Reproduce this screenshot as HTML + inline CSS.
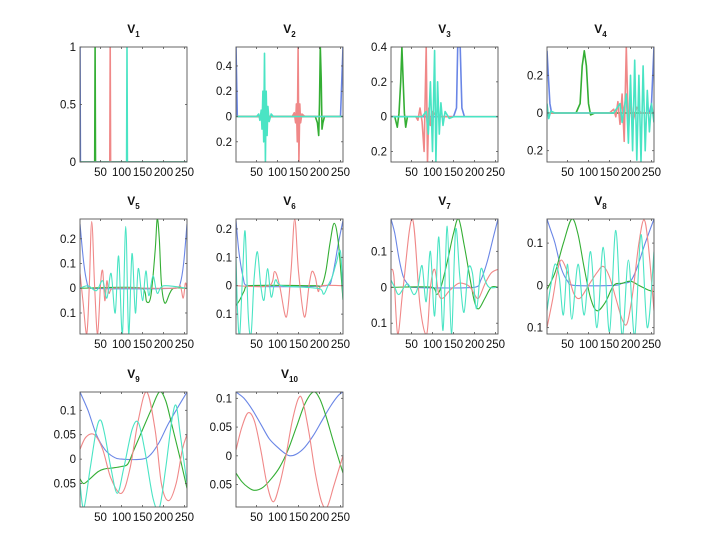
<!DOCTYPE html>
<html><head><meta charset="utf-8"><style>
html,body{margin:0;padding:0;background:#fff;}
svg{display:block;font-family:"Liberation Sans",sans-serif;}
</style></head><body>
<svg id="fig" width="720" height="540" xmlns="http://www.w3.org/2000/svg"></svg>
<script>
// ---- data ----
const panelTitles = ["1","2","3","4","5","6","7","8","9","10"];
const xTicks = [50,100,150,200,250];
const yLimits = [[0,1],[-0.36,0.55],[-0.26,0.4],[-0.26,0.35],[-0.185,0.28],[-0.17,0.235],[-0.13,0.19],[-0.115,0.157],[-0.098,0.1375],[-0.089,0.111]];
const yTicks = [[0,0.5,1],[-0.2,0,0.2,0.4],[-0.2,0,0.2,0.4],[-0.2,0,0.2],[-0.1,0,0.1,0.2],[-0.1,0,0.1,0.2],[-0.1,0,0.1],[-0.1,0,0.1],[-0.05,0,0.05,0.1],[-0.05,0,0.05,0.1]];
const yTickLabels = [["0","0.5","1"],["0.2","0","0.2","0.4"],["0.2","0","0.2","0.4"],["0.2","0","0.2"],["0.1","0","0.1","0.2"],["0.1","0","0.1","0.2"],["0.1","0","0.1"],["0.1","0","0.1"],["0.05","0","0.05","0.1"],["0.05","0","0.05","0.1"]];
const seriesNames = ["blue","green","red","cyan"];
// [x, value] pairs per panel, per series (blue, green, red, cyan)
const blueValues = [
 [[1,1],[2,0],[256,0]],
 [[1,0.55],[4,0],[250,0],[256,0.55]],
 [[1,0],[150,0],[157,0.05],[160,0.4],[166,0.4],[170,0.05],[176,0]],
 [[1,0.33],[4,0.2],[8,0.05],[12,0],[245,0],[250,0.05],[256,0.35]],
 [[1,0.26],[10,0.1],[18,0.02],[25,0],[230,0],[240,0.02],[248,0.1],[256,0.26]],
 [[1,0.23],[8,0.12],[18,0.03],[28,0],[215,0],[230,0.03],[245,0.15],[256,0.23]],
 [[1,0.19],[10,0.15],[20,0.08],[30,0.03],[40,0.01],[50,0],[200,0],[215,0.02],[230,0.07],[245,0.14],[256,0.19]],
 [[1,0.157],[10,0.13],[20,0.1],[35,0.04],[50,0.01],[65,0],[160,0],[180,0.005],[200,0.01],[215,0.04],[235,0.1],[256,0.157]],
 [[1,0.1375],[20,0.1],[40,0.05],[60,0.02],[80,0.005],[100,0],[150,0],[170,0.01],[190,0.035],[210,0.07],[230,0.1],[256,0.1375]],
 [[1,0.111],[20,0.1],[40,0.08],[60,0.055],[80,0.03],[100,0.015],[120,0.003],[130,0],[145,0.003],[165,0.015],[185,0.035],[205,0.06],[225,0.085],[245,0.105],[256,0.111]]
];
const greenValues = [
 [[1,0],[36,0],[37,1],[38,0],[256,0]],
 [[1,0],[190,0],[195,-0.05],[198,-0.15],[200,0.1],[202,0.55],[204,0.3],[206,-0.1],[208,-0.05],[212,0],[256,0]],
 [[1,0],[10,0],[16,-0.06],[20,0.02],[24,0.2],[27,0.4],[30,0.2],[33,0.02],[36,-0.06],[40,0]],
 [[1,0],[70,0],[80,0.05],[85,0.25],[90,0.33],[95,0.25],[100,0.05],[105,-0.01],[115,0],[256,0]],
 [[1,0],[150,0],[160,-0.055],[170,-0.03],[180,0.15],[185,0.28],[190,0.2],[195,0.02],[203,-0.06],[215,-0.02],[225,0],[256,0]],
 [[1,-0.07],[10,-0.05],[20,-0.02],[30,0],[190,0],[205,0],[215,0.05],[225,0.15],[235,0.22],[245,0.15],[256,-0.05]],
 [[1,0],[100,0],[110,-0.02],[120,0],[135,0.07],[150,0.15],[162,0.19],[175,0.12],[190,0.02],[200,-0.04],[210,-0.06],[225,-0.03],[240,0],[256,0]],
 [[1,-0.01],[20,0.03],[40,0.1],[60,0.157],[75,0.12],[90,0.04],[105,-0.03],[120,-0.06],[140,-0.04],[160,0],[180,0.005],[200,0.01],[220,0],[240,-0.01],[256,-0.015]],
 [[1,-0.04],[10,-0.05],[25,-0.04],[45,-0.025],[60,-0.02],[80,-0.018],[100,-0.015],[115,-0.01],[130,0.02],[150,0.06],[170,0.1],[190,0.1375],[205,0.12],[220,0.07],[240,0],[256,-0.06]],
 [[1,-0.03],[15,-0.045],[30,-0.055],[45,-0.06],[65,-0.055],[85,-0.04],[105,-0.02],[125,0.01],[145,0.05],[165,0.09],[185,0.111],[200,0.1],[215,0.07],[235,0.02],[256,-0.03]]
];
const redValues = [
 [[1,0],[72,0],[73,1],[74,0],[256,0]],
 [[1,0],[135,0],[140,0.03],[143,-0.05],[145,0.1],[147,-0.2],[149,0.55],[151,-0.36],[153,0.1],[155,-0.05],[158,0.02],[165,0],[256,0]],
 [[1,0],[60,0],[65,-0.02],[70,0.05],[75,-0.03],[80,-0.2],[85,0.4],[88,-0.26],[91,0.05],[95,-0.05],[100,0.03],[110,0],[256,0]],
 [[1,0],[150,0],[160,0.02],[165,-0.02],[170,0.06],[175,-0.06],[180,0.1],[185,-0.15],[190,0.35],[195,-0.1],[200,0.08],[205,-0.05],[215,0.03],[225,0],[256,0]],
 [[1,0.06],[8,-0.05],[17,-0.185],[23,0],[29,0.27],[36,0],[43,-0.185],[50,0.02],[55,0.07],[60,-0.05],[65,0.03],[70,-0.02],[80,0],[230,0],[240,0.01],[247,-0.04],[252,0.02],[256,0]],
 [[1,0],[80,0],[93,0.05],[105,0],[121,-0.11],[132,0.05],[141,0.235],[150,0.05],[164,-0.11],[175,0],[182,0.05],[190,0.03],[197,-0.02],[205,0],[256,0]],
 [[1,0.05],[8,0.03],[17,-0.13],[30,0],[52,0.19],[70,-0.05],[86,-0.13],[95,0],[105,0.05],[115,-0.02],[125,-0.03],[140,-0.01],[160,0.01],[175,0.01],[190,0],[200,-0.02],[210,-0.03],[225,0.01],[240,0.04],[256,0.05]],
 [[1,-0.1],[15,-0.03],[25,0.03],[35,0.06],[50,0.03],[65,-0.02],[80,-0.03],[100,0],[120,0.03],[135,0.045],[150,0.02],[165,-0.03],[180,-0.08],[192,-0.09],[205,-0.02],[220,0.1],[232,0.155],[242,0.1],[256,-0.06]],
 [[1,0.02],[15,0.045],[35,0.05],[55,0.02],[75,-0.04],[100,-0.07],[120,-0.02],[140,0.08],[160,0.1375],[180,0.06],[195,-0.05],[212,-0.085],[230,-0.05],[245,0.02],[256,0.05]],
 [[1,0.01],[15,0.05],[30,0.075],[45,0.06],[60,0.01],[75,-0.05],[90,-0.08],[105,-0.05],[120,0],[135,0.06],[150,0.1],[160,0.095],[175,0.04],[190,-0.03],[205,-0.08],[218,-0.089],[235,-0.05],[256,0]]
];
const cyanValues = [
 [[1,0],[112,0],[113,1],[114,0],[256,0]],
 [[1,0],[50,0],[55,0.02],[58,-0.03],[61,0.05],[63,-0.1],[65,0.2],[67,-0.2],[69,0.5],[71,-0.36],[73,0.2],[75,-0.15],[77,0.08],[80,-0.04],[85,0.02],[90,0],[256,0]],
 [[1,0],[75,0],[85,0.03],[90,-0.1],[95,0.2],[100,-0.2],[105,0.38],[108,-0.26],[112,0.2],[116,-0.1],[120,0.08],[125,-0.05],[130,0.03],[140,-0.01],[150,0],[256,0]],
 [[1,0.05],[5,-0.03],[10,0.01],[20,0],[160,0],[175,0.05],[180,-0.05],[190,0.1],[195,-0.16],[200,0.2],[205,-0.2],[210,0.28],[215,-0.25],[220,0.2],[225,-0.26],[230,0.25],[235,-0.2],[240,0.12],[245,-0.1],[250,0.05],[256,-0.05]],
 [[1,0],[20,0.01],[40,-0.01],[55,0.03],[65,-0.04],[75,0.06],[85,-0.1],[93,0.13],[102,-0.185],[110,0.25],[117,-0.185],[125,0.14],[133,-0.1],[140,0.08],[150,-0.05],[158,0.07],[165,-0.03],[175,0.05],[185,-0.02],[200,0.01],[256,0]],
 [[1,0.1],[5,-0.1],[10,-0.17],[17,0.05],[23,0.19],[30,-0.1],[37,-0.17],[44,0.02],[52,0.12],[60,0],[68,-0.05],[76,0.06],[85,-0.04],[95,0.02],[110,0],[200,-0.01],[210,-0.03],[220,0],[230,0.03],[240,0.08],[250,0.12],[256,-0.05]],
 [[1,0.02],[10,0],[20,-0.02],[40,0.01],[55,-0.02],[65,0],[75,0.06],[85,-0.04],[95,0.1],[105,-0.08],[115,0.14],[125,-0.12],[135,0.17],[145,-0.13],[155,0.16],[165,0.03],[175,-0.07],[185,0.05],[195,0.04],[205,-0.06],[215,0.05],[225,0.02],[235,0],[256,0]],
 [[1,-0.06],[10,0],[20,0.05],[30,0.02],[40,-0.07],[50,0.05],[60,-0.08],[75,0.05],[90,-0.07],[105,0.08],[120,-0.1],[135,0.09],[150,-0.11],[165,0.13],[180,-0.12],[195,0.06],[210,-0.12],[225,0.12],[240,-0.1],[256,0.08]],
 [[1,-0.05],[10,-0.1],[25,-0.02],[40,0.06],[50,0.08],[60,0.05],[75,-0.02],[90,-0.07],[105,-0.02],[125,0.06],[140,0.075],[155,0.02],[175,-0.08],[190,-0.1],[205,-0.02],[220,0.08],[230,0.11],[240,0.05],[256,-0.05]],
 []
];
// ---- layout ----
const colX = [80,236,391,547];
const rowY = [47,219,392];
const boxW = 107, boxH = 115;
const colors = {blue:"#6a86e6",green:"#34ae34",red:"#f08888",cyan:"#4ae4c4"};
const NS = "http://www.w3.org/2000/svg";
const svg = document.getElementById("fig");
function mk(tag, attrs, parent){const e=document.createElementNS(NS,tag);for(const k in attrs)e.setAttribute(k,attrs[k]);(parent||svg).appendChild(e);return e;}
const allSeries = {blue:blueValues,green:greenValues,red:redValues,cyan:cyanValues};
function smoothPath(P){
  let d="M"+P[0][0].toFixed(1)+" "+P[0][1].toFixed(1);
  for(let k=0;k<P.length-1;k++){
    const p0=P[Math.max(0,k-1)],p1=P[k],p2=P[k+1],p3=P[Math.min(P.length-1,k+2)];
    const t=6;
    const c1=[p1[0]+(p2[0]-p0[0])/t,p1[1]+(p2[1]-p0[1])/t];
    const c2=[p2[0]-(p3[0]-p1[0])/t,p2[1]-(p3[1]-p1[1])/t];
    c1[0]=Math.min(Math.max(c1[0],p1[0]),p2[0]);c2[0]=Math.min(Math.max(c2[0],p1[0]),p2[0]);
    d+=" C"+c1[0].toFixed(1)+" "+c1[1].toFixed(1)+" "+c2[0].toFixed(1)+" "+c2[1].toFixed(1)+" "+p2[0].toFixed(1)+" "+p2[1].toFixed(1);
  }
  return d;
}

panelTitles.forEach((t,i)=>{
  const x0 = colX[i%4], y0 = rowY[Math.floor(i/4)];
  const [ymin,ymax] = yLimits[i];
  const sx = v => x0 + (v-1)/255*boxW;
  const sy = v => y0 + boxH - (v-ymin)/(ymax-ymin)*boxH;
  const g = mk("g",{});
  
  
  const clipId = "clip"+i;
  const cp = mk("clipPath",{id:clipId},g);
  mk("rect",{x:x0,y:y0,width:boxW,height:boxH},cp);
  seriesNames.forEach(s=>{
    const pts = allSeries[s][i];
    if(!pts.length) return;
    const P = pts.map(p=>[sx(p[0]),sy(p[1])]);
    const d = i<4 ? P.map((p,k)=>(k?"L":"M")+p[0].toFixed(1)+" "+p[1].toFixed(1)).join(" ") : smoothPath(P);
    const path = mk("path",{d:d,fill:"none",stroke:colors[s],"stroke-width":(i<4?1.6:1.1),"stroke-linejoin":"round","clip-path":"url(#"+clipId+")"},g);
    
    
  });
  const box = mk("rect",{x:x0,y:y0,width:boxW,height:boxH,fill:"none",stroke:"#555","stroke-width":0.9},g);
  
  
  xTicks.forEach(v=>{
    const x=sx(v);
    mk("line",{x1:x,x2:x,y1:y0+boxH,y2:y0+boxH-2,stroke:"#555","stroke-width":0.8},g);
    mk("line",{x1:x,x2:x,y1:y0,y2:y0+2,stroke:"#555","stroke-width":0.8},g);
    const tx = mk("text",{x:x,y:y0+boxH+14,"font-size":11.5,"text-anchor":"middle",fill:"#111"},g);
    tx.textContent = v;
    
    
  });
  yTicks[i].forEach((v,k)=>{
    const y=sy(v);
    mk("line",{x1:x0,x2:x0+2,y1:y,y2:y,stroke:"#555","stroke-width":0.8},g);
    mk("line",{x1:x0+boxW,x2:x0+boxW-2,y1:y,y2:y,stroke:"#555","stroke-width":0.8},g);
    const ty = mk("text",{x:x0-4,y:y+4,"font-size":11.5,"text-anchor":"end",fill:"#111"},g);
    ty.textContent = yTickLabels[i][k];
    
    
  });
  const title = mk("text",{x:x0+boxW/2,y:y0-14,"font-size":12,"font-weight":"bold","text-anchor":"middle",fill:"#111"},g);
  
  
  title.appendChild(document.createTextNode("V"));
  const sub = mk("tspan",{"font-size":8,dy:4},title);
  sub.textContent = t;
});
</script>
</body></html>
